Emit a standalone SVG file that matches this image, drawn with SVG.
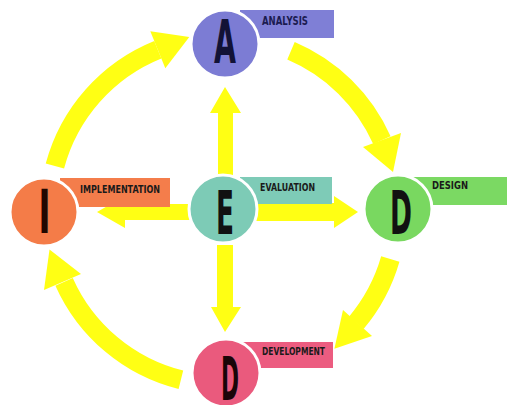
<svg xmlns="http://www.w3.org/2000/svg" width="507" height="405" viewBox="0 0 507 405">
<style>
.arc{fill:none;stroke:#ffff14;stroke-width:19}
.head{fill:#ffff14}
.node{stroke:#ffffff;stroke-width:3}
.big{font-family:"DejaVu Sans","Liberation Sans",sans-serif;font-weight:bold;font-size:60px;fill:#111111;text-anchor:middle}
.lbl{font-family:"DejaVu Sans","Liberation Sans",sans-serif;font-weight:bold;font-size:11px;fill:#1a1a1a}
</style>
<rect width="507" height="405" fill="#ffffff"/>
<g id="connectors">
  <path class="arc" d="M54.9,166 A174,174 0 0 1 157.8,49.7"/>
  <polygon class="head" points="150.3,31.2 165.3,68.2 189.3,37"/>
  <path class="arc" d="M291,50.8 A174,174 0 0 1 381.9,140.2"/>
  <polygon class="head" points="363,147 401,133 393,172"/>
  <path class="arc" d="M390.3,259 A174,174 0 0 1 356.3,322.8"/>
  <polygon class="head" points="343,310 372,336 334.4,348.8"/>
  <path class="arc" d="M180.9,379.8 A174,174 0 0 1 64.1,281.8"/>
  <polygon class="head" points="44,290 81,274 49.5,249.5"/>
  <polygon class="head" points="218,175 218,113 210,113 225,87 241,113 233,113 233,175"/>
  <polygon class="head" points="217,245 217,307 211,307 225,332 241,307 233,307 233,245"/>
  <polygon class="head" points="195,204 125,204 125,196 97,212 125,228 125,220 195,220"/>
  <polygon class="head" points="250,203 334,203 334,196 358,212 334,228 334,221 250,221"/>
</g>
<g id="node-analysis">
  <rect x="240" y="10" width="94" height="28" fill="#7f7fd6"/>
  <text class="lbl" x="262" y="25" textLength="46" lengthAdjust="spacingAndGlyphs" style="font-size:12px;fill:#1b1b50">ANALYSIS</text>
  <circle class="node" cx="225" cy="44" r="34" fill="#7c7cd4"/>
  <text class="big" x="225" y="63" textLength="22" lengthAdjust="spacingAndGlyphs" style="fill:#121236">A</text>
</g>
<g id="node-implementation">
  <rect x="60" y="178" width="110" height="29" fill="#f47d4b"/>
  <text class="lbl" x="80" y="193" textLength="80" lengthAdjust="spacingAndGlyphs">IMPLEMENTATION</text>
  <circle class="node" cx="44" cy="212" r="34" fill="#f47c48"/>
  <text class="big" x="44.5" y="233" textLength="12" lengthAdjust="spacingAndGlyphs" style="fill:#200800">I</text>
</g>
<g id="node-evaluation">
  <rect x="240" y="177" width="92" height="27" fill="#7ecbb7"/>
  <text class="lbl" x="260" y="191" textLength="55" lengthAdjust="spacingAndGlyphs">EVALUATION</text>
  <circle class="node" cx="223" cy="209" r="34" fill="#7dcbb6"/>
  <text class="big" x="225" y="234" textLength="18" lengthAdjust="spacingAndGlyphs">E</text>
</g>
<g id="node-design">
  <rect x="410" y="177" width="97" height="28" fill="#7bd963"/>
  <text class="lbl" x="432" y="189" textLength="36" lengthAdjust="spacingAndGlyphs">DESIGN</text>
  <circle class="node" cx="398" cy="209" r="34" fill="#79d860"/>
  <text class="big" x="401" y="234" textLength="22" lengthAdjust="spacingAndGlyphs">D</text>
</g>
<g id="node-development">
  <rect x="240" y="342" width="93" height="26" fill="#ec5c80"/>
  <text class="lbl" x="262" y="355" textLength="63" lengthAdjust="spacingAndGlyphs">DEVELOPMENT</text>
  <circle class="node" cx="226" cy="373" r="34" fill="#ea5a7d"/>
  <text class="big" x="230" y="400" textLength="18" lengthAdjust="spacingAndGlyphs" style="fill:#1a0508">D</text>
</g>
</svg>
